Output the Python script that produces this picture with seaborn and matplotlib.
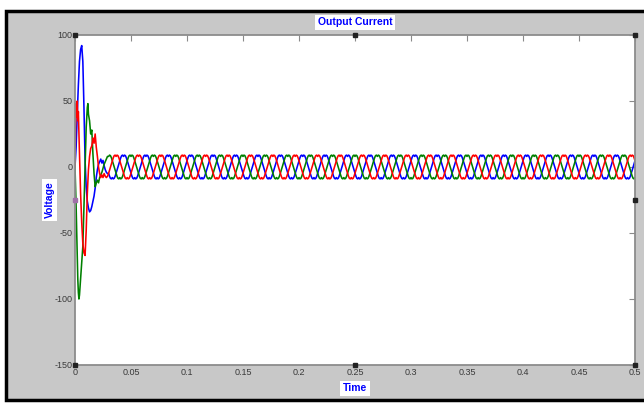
import numpy as np
import pandas as pd
import matplotlib
matplotlib.use('Agg')
import matplotlib.pyplot as plt
from matplotlib.patches import Rectangle
import seaborn as sns

# ---- start-up transient (time in ms, current) ----
blue_t = [0, 1, 2, 3, 4, 5, 6, 7, 8, 9, 10, 11, 12, 13, 14, 15, 16, 17, 18, 19,
          20, 21, 22, 23, 24, 25, 26, 27, 28, 29]
blue_i = [0, 15, 40, 62, 80, 89, 92, 80, 45, 5, -15, -26, -31, -34, -33, -30, -26, -22, -16, -8,
          -2, 2, 4, 6, 3, 5, 1, -2, -4, -5]

red_t = [0, 0.5, 1, 1.5, 2, 2.5, 3, 3.5, 4, 5, 6, 7, 8, 9, 10, 11, 12, 13, 14, 15,
         16, 17, 18, 19, 20, 21, 22, 23, 24, 25, 26, 27, 28, 29]
red_i = [0, 30, 48, 38, 50, 35, 42, 25, 10, -20, -42, -58, -65, -67, -48, -20, -2, 8, 14, 16,
         22, 18, 25, 15, 8, 0, -5, -8, -6, -8, -5, -7, -8, -7]

green_t = [0, 1, 2, 2.5, 3, 3.5, 4, 5, 6, 7, 8, 9, 10, 11, 11.5, 12, 13, 14, 15, 16,
           17, 18, 19, 20, 21, 22, 23, 24, 25, 26, 27, 28, 29]
green_i = [0, -30, -65, -85, -95, -100, -97, -85, -72, -60, -30, 0, 30, 45, 48, 40, 35, 25, 28, 10,
           -5, -15, -12, -10, -12, -8, -6, -4, -1, 2, 4, 6, 8]

# ---- one steady-state cycle (50 Hz), 24 samples ----
cycle = [0, 2.4, 4.8, 7.0, 8.6, 9.0, 8.0, 9.0, 8.6, 7.0, 4.8, 2.4,
         0, -2.4, -4.8, -7.0, -8.6, -9.0, -8.0, -9.0, -8.6, -7.0, -4.8, -2.4]
period_ms = 20
steady_start_ms = 30
end_ms = 500
# cycle index each phase is at when the steady state begins
start_idx = {'Red': 22, 'Blue': 14, 'Green': 6}

dt = period_ms / len(cycle)
n = int(round((end_ms - steady_start_ms) / dt)) + 1
t_steady = steady_start_ms + np.arange(n) * dt


def phase_frame(name, t_tr, i_tr):
    i_steady = np.resize(np.roll(cycle, -start_idx[name]), n)
    t = np.concatenate([np.array(t_tr, float), t_steady]) / 1000
    i = np.concatenate([np.array(i_tr, float), i_steady])
    return pd.DataFrame({'Time': t, 'Current': i, 'Phase': name})


df = pd.concat([phase_frame('Blue', blue_t, blue_i),
                phase_frame('Green', green_t, green_i),
                phase_frame('Red', red_t, red_i)], ignore_index=True)

x_ticks = [0, 0.05, 0.1, 0.15, 0.2, 0.25, 0.3, 0.35, 0.4, 0.45, 0.5]
x_labels = ['0', '0.05', '0.1', '0.15', '0.2', '0.25', '0.3', '0.35', '0.4', '0.45', '0.5']
y_ticks = [-150, -100, -50, 0, 50, 100]
y_labels = ['-150', '-100', '-50', '0', '50', '100']

sns.set_style('white')
plt.rcParams['font.family'] = ['Liberation Sans Narrow', 'Liberation Sans', 'DejaVu Sans']

fig = plt.figure(figsize=(6.44, 4.03), dpi=100)
fig.patch.set_facecolor('white')
fig.patches.append(Rectangle((6 / 644, 3 / 403), 1.0, 389 / 403, transform=fig.transFigure,
                             facecolor='#c8c8c8', edgecolor='black', linewidth=2.5, zorder=-10))

ax = fig.add_axes([75 / 644, 38 / 403, 560 / 644, 330 / 403])
ax.set_zorder(2)
ax.set_facecolor('white')

sns.lineplot(data=df, x='Time', y='Current', hue='Phase', hue_order=['Blue', 'Green', 'Red'],
             palette={'Blue': '#0000ff', 'Green': '#008000', 'Red': '#ff0000'},
             estimator=None, sort=False, linewidth=1.15, legend=False, ax=ax)

ax.set_xlim(0, 0.5)
ax.set_ylim(-150, 100)
ax.set_xticks(x_ticks)
ax.set_xticklabels(x_labels)
ax.set_yticks(y_ticks)
ax.set_yticklabels(y_labels)
ax.set_xlabel('')
ax.set_ylabel('')
ax.tick_params(direction='in', length=4, width=0.8, color='#8a8a8a', top=True, right=True,
               labelsize=6.5, labelcolor='#3a3a3a', pad=2)
for s in ax.spines.values():
    s.set_color('#8c8c8c')
    s.set_linewidth(1.3)

# selection handles around the axes
handles = [(0, 1), (0.5, 1), (1, 1), (1, 0.5), (1, 0), (0.5, 0), (0, 0)]
for hx, hy in handles:
    ax.plot(hx, hy, 's', ms=3.2, color='#222222', transform=ax.transAxes, clip_on=False, zorder=5)
ax.plot(0, 0.5, 's', ms=3.2, color='#a070a8', transform=ax.transAxes, clip_on=False, zorder=5)

box = dict(facecolor='white', edgecolor='none', pad=1.8)
fig.text(355 / 644, 1 - 22 / 403, 'Output Current', color='#0000ff', fontsize=7.5,
         fontweight='bold', ha='center', va='center', bbox=box, zorder=3)
fig.text(355 / 644, 1 - 388 / 403, 'Time', color='#0000ff', fontsize=7.5,
         fontweight='bold', ha='center', va='center', bbox=box, zorder=3)
fig.text(50 / 644, 1 - 200 / 403, 'Voltage', color='#0000ff', fontsize=7.5,
         fontweight='bold', ha='center', va='center', rotation=90, bbox=box, zorder=3)

fig.savefig('out.png', dpi=100)
